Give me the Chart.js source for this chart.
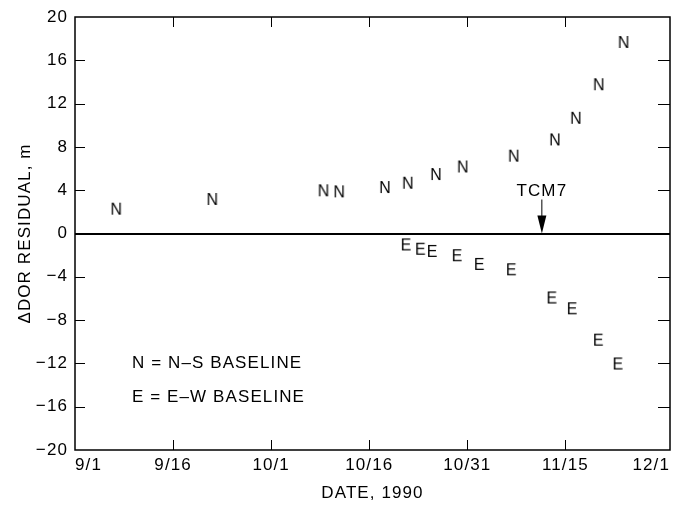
<!DOCTYPE html>
<html>
<head>
<meta charset="utf-8">
<script src="https://cdn.jsdelivr.net/npm/chart.js@4.4.0/dist/chart.umd.min.js"></script>
<style>
  html, body { margin: 0; padding: 0; background: #fff; }
  #wrap { width: 675px; height: 510px; }
</style>
</head>
<body>
<div id="wrap"><canvas id="dorChart"></canvas></div>
<script>
// 数据：日期按 9/1 起算的天数
const dayTicks = [0, 15, 30, 45, 60, 75, 91];
const dayLabels = ['9/1', '9/16', '10/1', '10/16', '10/31', '11/15', '12/1'];
const yTicks = [-20, -16, -12, -8, -4, 0, 4, 8, 12, 16, 20];

const nsDays = [6.3, 21, 38, 40.4, 47.4, 50.9, 55.2, 59.3, 67.1, 73.4, 76.6, 80.1, 83.9];
const nsResidual = [2.2, 3.1, 3.9, 3.8, 4.2, 4.6, 5.4, 6.1, 7.1, 8.6, 10.6, 13.7, 17.6];

const ewDays = [50.6, 52.8, 54.6, 58.4, 61.8, 66.7, 72.9, 76.0, 80.0, 83.0];
const ewResidual = [-1.1, -1.5, -1.7, -2.1, -2.9, -3.4, -6.0, -7.0, -9.9, -12.1];

const tcm7Day = 71.4;
const keyLines = ['N = N\u2013S BASELINE', 'E = E\u2013W BASELINE'];

const FONT = '"Liberation Sans", Arial, Helvetica, sans-serif';
const SPACING = '1.1px';

// 字母作为点样式
function makeGlyph(letter) {
    const c = document.createElement('canvas');
    c.width = 18; c.height = 18;
    const g = c.getContext('2d');
    g.fillStyle = '#000';
    g.font = '16px ' + FONT;
    g.textAlign = 'center';
    g.textBaseline = 'middle';
    g.fillText(letter, 9, 10);
    return c;
}

function toXY(xs, ys) {
    return xs.map((x, i) => ({ x: x, y: ys[i] }));
}

// 边框、内向刻度、TCM7 标注和图例文字
const decorPlugin = {
    id: 'decor',
    beforeDraw(chart) {
        chart.ctx.letterSpacing = SPACING;
    },
    afterDraw(chart) {
        const ctx = chart.ctx;
        const a = chart.chartArea;
        const xs = chart.scales.x;
        const ys = chart.scales.y;
        ctx.save();
        ctx.strokeStyle = '#000';
        ctx.lineWidth = 1.5;
        ctx.strokeRect(a.left, a.top, a.right - a.left, a.bottom - a.top);

        ctx.lineWidth = 1;
        ctx.beginPath();
        yTicks.slice(1, -1).forEach(v => {
            const py = Math.round(ys.getPixelForValue(v)) + 0.5;
            ctx.moveTo(a.left, py); ctx.lineTo(a.left + 10, py);
            ctx.moveTo(a.right - 12, py); ctx.lineTo(a.right, py);
        });
        dayTicks.slice(1, -1).forEach(v => {
            const px = Math.round(xs.getPixelForValue(v)) + 0.5;
            ctx.moveTo(px, a.bottom); ctx.lineTo(px, a.bottom - 10);
            ctx.moveTo(px, a.top); ctx.lineTo(px, a.top + 10);
        });
        ctx.stroke();

        // TCM7 箭头
        const tx = xs.getPixelForValue(tcm7Day);
        const y0 = ys.getPixelForValue(0);
        ctx.fillStyle = '#000';
        ctx.font = '17px ' + FONT;
        ctx.letterSpacing = SPACING;
        ctx.textAlign = 'center';
        ctx.textBaseline = 'alphabetic';
        ctx.fillText('TCM7', tx, y0 - 38);
        ctx.beginPath();
        ctx.moveTo(tx, y0 - 34); ctx.lineTo(tx, y0 - 16);
        ctx.stroke();
        ctx.beginPath();
        ctx.moveTo(tx - 4.5, y0 - 18);
        ctx.lineTo(tx + 4.5, y0 - 18);
        ctx.lineTo(tx, y0);
        ctx.closePath();
        ctx.fill();

        // 图例
        ctx.textAlign = 'left';
        ctx.textBaseline = 'middle';
        ctx.fillText(keyLines[0], a.left + 57, ys.getPixelForValue(-12));
        ctx.fillText(keyLines[1], a.left + 57, ys.getPixelForValue(-15.1));
        ctx.restore();
    }
};

document.addEventListener('DOMContentLoaded', function () {
    const ctx = document.getElementById('dorChart').getContext('2d');
    new Chart(ctx, {
        type: 'scatter',
        data: {
            datasets: [
                {
                    label: 'N-S',
                    data: toXY(nsDays, nsResidual),
                    pointStyle: makeGlyph('N'),
                    pointRadius: 9
                },
                {
                    label: 'E-W',
                    data: toXY(ewDays, ewResidual),
                    pointStyle: makeGlyph('E'),
                    pointRadius: 9
                }
            ]
        },
        options: {
            responsive: true,
            maintainAspectRatio: false,
            animation: false,
            layout: { autoPadding: false, padding: { top: 17, right: 5, left: 0, bottom: 0 } },
            plugins: {
                legend: { display: false },
                tooltip: { enabled: false }
            },
            scales: {
                x: {
                    type: 'linear',
                    min: 0,
                    max: 91,
                    afterBuildTicks: s => { s.ticks = dayTicks.map(v => ({ value: v })); },
                    afterFit: s => { s.height = 60; s.paddingRight = 0; s.paddingLeft = 0; },
                    ticks: {
                        color: '#000',
                        font: { family: FONT, size: 17 },
                        padding: 5,
                        align: 'inner',
                        maxRotation: 0,
                        callback: v => dayLabels[dayTicks.indexOf(v)]
                    },
                    grid: { display: false, drawTicks: false },
                    border: { display: false },
                    title: {
                        display: true,
                        text: 'DATE, 1990',
                        color: '#000',
                        font: { family: FONT, size: 17 },
                        padding: { top: 3, bottom: 6 }
                    }
                },
                y: {
                    min: -20,
                    max: 20,
                    afterBuildTicks: s => { s.ticks = yTicks.map(v => ({ value: v })); },
                    afterFit: s => { s.width = 75; s.paddingTop = 0; s.paddingBottom = 0; },
                    ticks: {
                        color: '#000',
                        font: { family: FONT, size: 17 },
                        padding: 7,
                        callback: v => (v < 0 ? '\u2212' + Math.abs(v) : String(v))
                    },
                    grid: {
                        drawTicks: false,
                        color: c => (c.tick && c.tick.value === 0 ? '#000' : 'rgba(0,0,0,0)'),
                        lineWidth: c => (c.tick && c.tick.value === 0 ? 2 : 0)
                    },
                    border: { display: false },
                    title: {
                        display: true,
                        text: '\u0394DOR RESIDUAL, m',
                        color: '#000',
                        font: { family: FONT, size: 17 },
                        padding: { top: 15, bottom: 2 }
                    }
                }
            }
        },
        plugins: [decorPlugin]
    });
});
</script>
</body>
</html>
